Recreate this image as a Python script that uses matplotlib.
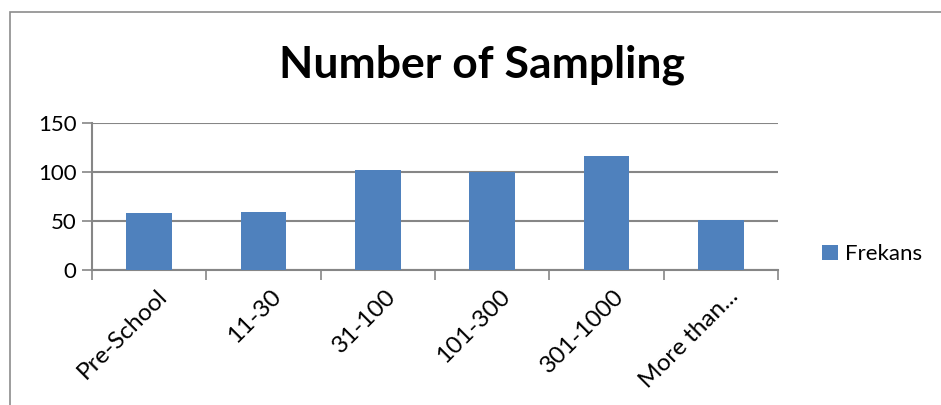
import matplotlib
matplotlib.use("Agg")
import matplotlib.pyplot as plt
from matplotlib.patches import Rectangle
import numpy as np

categories = ["Pre-School", "11-30", "31-100", "101-300", "301-1000", "More than..."]
values = [58, 59, 102, 100, 117, 51]
series_name = "Frekans"
yticks = [0, 50, 100, 150]

plt.rcParams['font.family'] = ['Lato', 'DejaVu Sans']

fig = plt.figure(figsize=(9.41, 4.05), dpi=100)
# outer chart border
fig.patches.append(Rectangle((10/941, -0.1), 1.2, 1 - 12/405 + 0.1, transform=fig.transFigure,
                             fill=False, edgecolor='#8c8c8c', linewidth=1.2))

ax = fig.add_axes([92/941, 1 - 270.3/405, (778 - 92)/941, (270.3 - 123.3)/405])
x = np.arange(len(categories))
ax.bar(x, values, width=0.4, color='#4F81BD', label=series_name, zorder=3)

ax.set_xlim(-0.5, len(categories) - 0.5)
ax.set_ylim(0, 150)
ax.set_yticks(yticks)
ax.set_yticklabels([str(t) for t in yticks], fontsize=16)
ax.yaxis.grid(True, color='#868686', linewidth=1.5, zorder=0)
ax.tick_params(axis='y', length=7, width=1.2, color='#868686', pad=4)

for s in ['top', 'right']:
    ax.spines[s].set_visible(False)
for s in ['left', 'bottom']:
    ax.spines[s].set_color('#868686')
    ax.spines[s].set_linewidth(1.5)

ax.set_xticks(np.arange(-0.5, len(categories), 1.0), minor=False)
ax.set_xticklabels([])
ax.tick_params(axis='x', length=7, width=1.2, color='#868686')
for xi, lab in zip(x, categories):
    ax.annotate(lab, xy=(xi, 0), xycoords=('data', 'axes fraction'),
                xytext=(5, -11), textcoords='offset points',
                rotation=45, rotation_mode='anchor', ha='right', va='top', fontsize=17.5)

fig.text(482/941, 1 - 65/405, "Number of Sampling", ha='center', va='center',
         fontsize=32, fontweight='bold')

leg = ax.legend(loc='center left', bbox_to_anchor=(1.035, 0.11), frameon=False,
                fontsize=16, handlelength=0.7, handleheight=0.7, handletextpad=0.35)

fig.savefig("out.png", dpi=100)
